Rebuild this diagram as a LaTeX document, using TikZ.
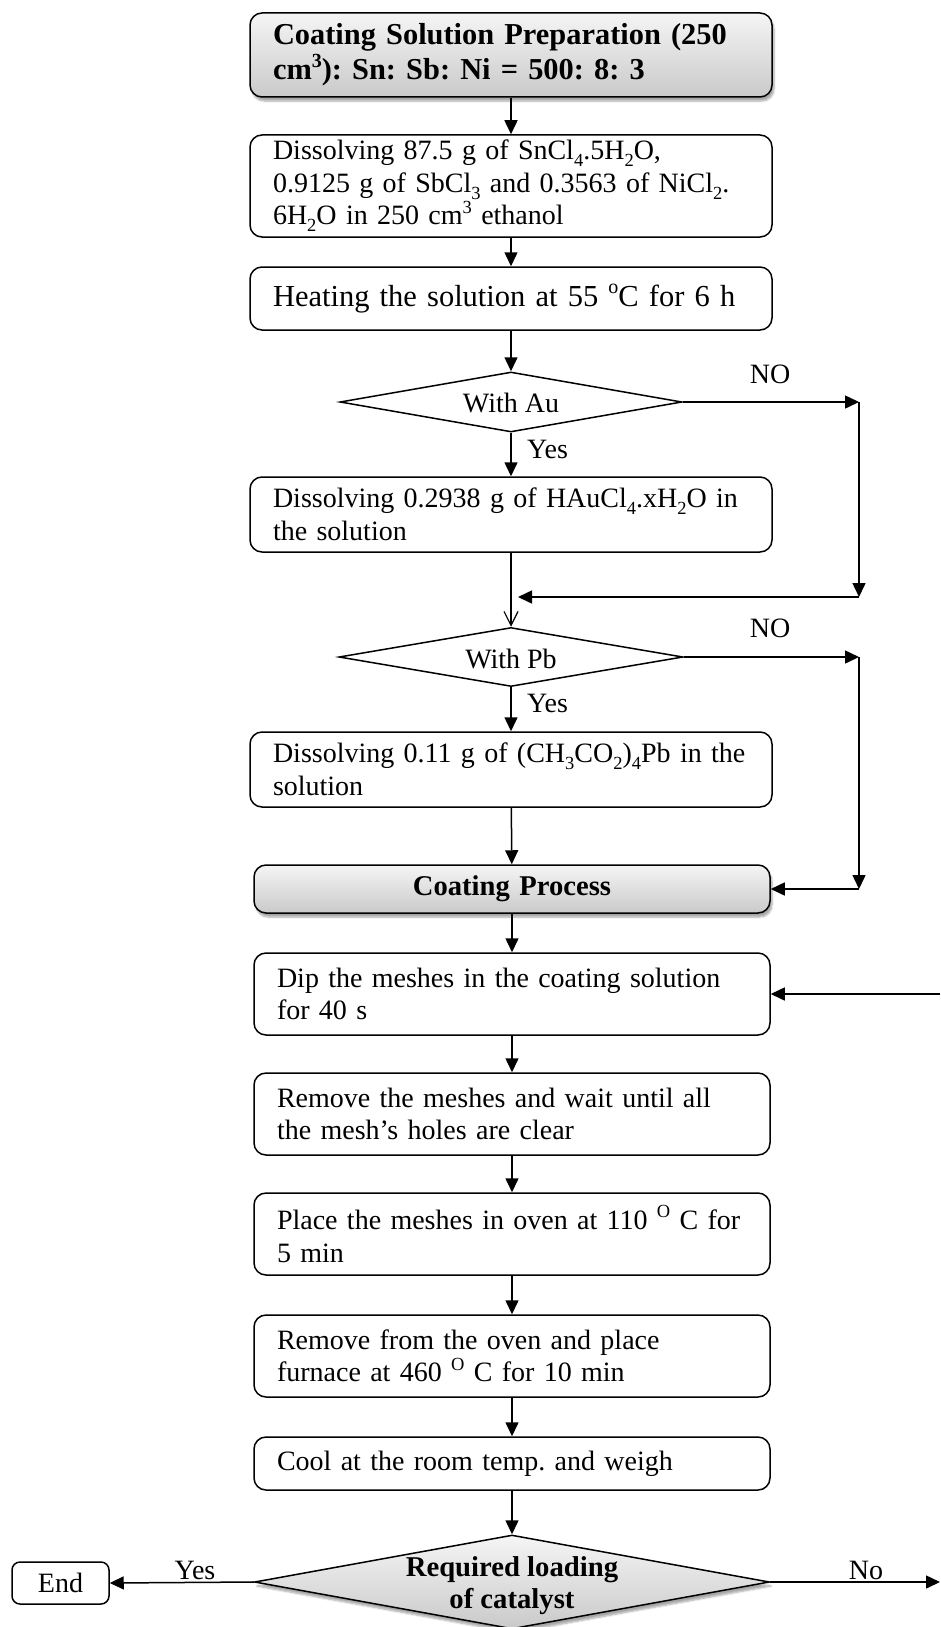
\documentclass[tikz,border=0pt]{standalone}
\usepackage{fontspec}
\setmainfont{Liberation Serif}
\usetikzlibrary{arrows.meta,shapes.geometric,shadows.blur}
\newcommand{\subs}[1]{\raisebox{-0.24em}{\fontsize{18.5}{18.5}\selectfont #1}}
\newcommand{\sups}[1]{\raisebox{0.42em}{\fontsize{18.5}{18.5}\selectfont #1}}
\tikzset{
  basefont/.style={font=\fontsize{28}{32.5}\selectfont},
  stepbox/.style={basefont, draw, line width=1.5pt, rounded corners=12pt,
    text width=476pt, inner xsep=23pt, inner ysep=0pt, align=left, fill=white},
  lowbox/.style={stepbox, text width=470pt},
  graybox/.style={top color=gray!8, bottom color=gray!42,
    blur shadow={shadow xshift=2pt, shadow yshift=-4pt, shadow blur steps=6, shadow opacity=35}},
  decision/.style={diamond, draw, line width=1.5pt, inner sep=0pt, fill=white},
  lbl/.style={basefont, inner sep=0pt},
  arr/.style={line width=1.5pt, -{Triangle[length=14pt,width=13pt]}},
  openarr/.style={line width=1.5pt, -{Straight Barb[length=14pt,width=14pt,line width=1.2pt]}}
}
\begin{document}
\frenchspacing
\begin{tikzpicture}[x=1pt,y=-1pt]
\path[use as bounding box] (0,0) rectangle (940,1627);

% boxes
\node[stepbox, graybox, minimum height=84pt, font=\fontsize{30.4}{35}\selectfont\bfseries] (top) at (511,55)
  {\mbox{Coating Solution Preparation (250}\\\mbox{cm\raisebox{0.42em}{\fontsize{20}{20}\selectfont 3}): Sn: Sb: Ni = 500: 8: 3}};
\node[stepbox, minimum height=102pt] (dis1) at (511,186)
  {\mbox{Dissolving 87.5 g of SnCl\subs{4}.5H\subs{2}O,}\\
   \mbox{0.9125 g of SbCl\subs{3} and 0.3563 of NiCl\subs{2}.}\\
   \mbox{6H\subs{2}O in 250 cm\sups{3} ethanol}};
\node[stepbox, minimum height=63pt, font=\fontsize{30.5}{33}\selectfont] (heat) at (511,298.5)
  {\mbox{Heating the solution at 55 \raisebox{0.42em}{\fontsize{20}{20}\selectfont o}C for 6 h}};
\node[decision, minimum width=342pt, minimum height=60pt, aspect=5.7] (dAu) at (511,402) {};
\node[lbl] (tAu) at (511,403) {With Au};
\node[stepbox, minimum height=75pt] (au) at (511,514.5)
  {\mbox{Dissolving 0.2938 g of HAuCl\subs{4}.xH\subs{2}O in}\\\mbox{the solution}};
\node[decision, minimum width=344pt, minimum height=59pt, aspect=5.8] (dPb) at (511,657) {};
\node[lbl] (tPb) at (511,659) {With Pb};
\node[stepbox, minimum height=75pt] (pb) at (511,769.5)
  {\mbox{Dissolving 0.11 g of (CH\subs{3}CO\subs{2})\subs{4}Pb in the}\\\mbox{solution}};
\node[lowbox, graybox, minimum height=48pt, align=center, font=\fontsize{28.6}{32.5}\selectfont\bfseries] (coat) at (512,889)
  {Coating Process};
\node[lowbox, minimum height=82pt] (dip) at (512,994)
  {\mbox{Dip the meshes in the coating solution}\\\mbox{for 40 s}};
\node[lowbox, minimum height=82pt] (rem) at (512,1114)
  {\mbox{Remove the meshes and wait until all}\\\mbox{the mesh’s holes are clear}};
\node[lowbox, minimum height=82pt] (place) at (512,1234)
  {\mbox{Place the meshes in oven at 110 \sups{O} C for}\\\mbox{5 min}};
\node[lowbox, minimum height=82pt] (oven) at (512,1356)
  {\mbox{Remove from the oven and place}\\\mbox{furnace at 460 \sups{O} C for 10 min}};
\node[lowbox, minimum height=53pt] (cool) at (512,1463.5)
  {\mbox{Cool at the room temp. and weigh}};
\node[decision, graybox, minimum width=515pt, minimum height=94pt, aspect=5.48] (dReq) at (512,1582) {};
\node[lbl, align=center, font=\fontsize{28.7}{32}\selectfont\bfseries] (tReq) at (512,1586)
  {Required loading\\of catalyst};
\node[draw, line width=1.5pt, rounded corners=8pt, minimum width=97pt, minimum height=42pt,
  inner sep=0pt, basefont] (end) at (60.5,1583) {End};

% helper coordinates
\coordinate (c1) at (859,402);
\coordinate (c2) at (859,597);
\coordinate (m1) at (518,597);
\coordinate (c3) at (859,657);
\coordinate (c4) at (859,889);
\coordinate (r1) at (940,994);
\coordinate (r2) at (940,1582);

% connectors
\draw[arr] (top) -- (dis1);
\draw[arr] (dis1) -- (heat);
\draw[arr] (heat) -- (dAu);
\draw[arr] (dAu) -- (au);
\draw[arr] (dAu.east) -- (c1);
\draw[arr] (c1) -- (c2);
\draw[arr] (c2) -- (m1);
\draw[openarr] (au) -- (dPb);
\draw[arr] (dPb) -- (pb);
\draw[arr] (dPb.east) -- (c3);
\draw[arr] (c3) -- (c4);
\draw[arr] (c4) -- (coat.east);
\draw[arr] (pb) -- (coat);
\draw[arr] (coat) -- (dip);
\draw[arr] (r1) -- (dip.east);
\draw[arr] (dip) -- (rem);
\draw[arr] (rem) -- (place);
\draw[arr] (place) -- (oven);
\draw[arr] (oven) -- (cool);
\draw[arr] (cool) -- (dReq);
\draw[arr] (dReq.west) -- (end.east);
\draw[arr] (dReq.east) -- (r2);

% labels
\node[lbl] (no1) at (770,374) {NO};
\node[lbl, anchor=west] (yes1) at (527,449) {Yes};
\node[lbl] (no2) at (770,628) {NO};
\node[lbl, anchor=west] (yes2) at (527,703) {Yes};
\node[lbl] (yes3) at (195,1570) {Yes};
\node[lbl] (no3) at (866,1570) {No};
\end{tikzpicture}
\end{document}
